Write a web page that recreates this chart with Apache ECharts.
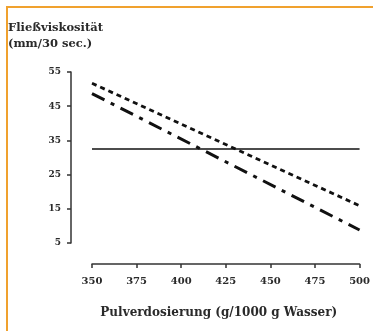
<!DOCTYPE html>
<html><head><meta charset="utf-8">
<script src="https://cdn.jsdelivr.net/npm/echarts@6/dist/echarts.min.js"></script>
<style>html,body{margin:0;padding:0;background:#fff;}#c{width:373px;height:331px;}
#frame{position:absolute;left:6px;top:6px;width:367px;height:325px;border-left:2px solid #f0a12e;border-top:2px solid #f0a12e;pointer-events:none;}</style>
</head><body><div id="c"></div><div id="frame"></div>
<script>
const xValues = [350, 500];
const dashedValues = [51.7, 15.9];
const dashDotValues = [48.7, 8.8];
const solidValues = [32.5, 32.5];
const yTicks = [5, 15, 25, 35, 45, 55];
const yTitle = 'Fließviskosität\n(mm/30 sec.)';
const xTitle = 'Pulverdosierung (g/1000 g Wasser)';

const pair = vals => xValues.map((x, i) => [x, vals[i]]);
const font = 'DejaVu Serif';
const chart = echarts.init(document.getElementById('c'), null, {renderer: 'canvas'});
chart.setOption({
  animation: false,
  backgroundColor: '#fff',
  title: {text: yTitle, left: 8, top: 20, padding: 0,
    textStyle: {fontFamily: font, fontWeight: 'bold', fontSize: 11.5, lineHeight: 16, color: '#2a2a2a'}},
  grid: {left: 92, right: 10, top: 72, bottom: 88},
  xAxis: {type: 'value', min: 350, max: 500, interval: 25, offset: 21,
    axisLine: {lineStyle: {color: '#333', width: 1.5}},
    axisTick: {length: 4, lineStyle: {color: '#333', width: 1.5}},
    axisLabel: {fontFamily: font, fontWeight: 'bold', fontSize: 10, color: '#2a2a2a', margin: 12},
    splitLine: {show: false},
    name: xTitle, nameLocation: 'middle', nameGap: 43,
    nameTextStyle: {fontFamily: font, fontWeight: 'bold', fontSize: 12, color: '#2a2a2a', padding: [0, 14, 0, 0]}},
  yAxis: {type: 'value', min: 5, max: 55, offset: 21,
    axisLine: {show: true, lineStyle: {color: '#333', width: 1.5}},
    axisTick: {show: true, length: 4, customValues: yTicks, lineStyle: {color: '#333', width: 1.5}},
    axisLabel: {customValues: yTicks, fontFamily: font, fontWeight: 'bold', fontSize: 9, color: '#2a2a2a', margin: 10},
    splitLine: {show: false}},
  series: [
    {type: 'line', data: pair(dashedValues), symbol: 'none',
      lineStyle: {color: '#111', width: 2.8, type: [5, 4]}},
    {type: 'line', data: pair(dashDotValues), symbol: 'none',
      lineStyle: {color: '#111', width: 3, type: [14, 7, 4, 7]}},
    {type: 'line', data: pair(solidValues), symbol: 'none',
      lineStyle: {color: '#111', width: 1.6}}
  ]
});
</script></body></html>
